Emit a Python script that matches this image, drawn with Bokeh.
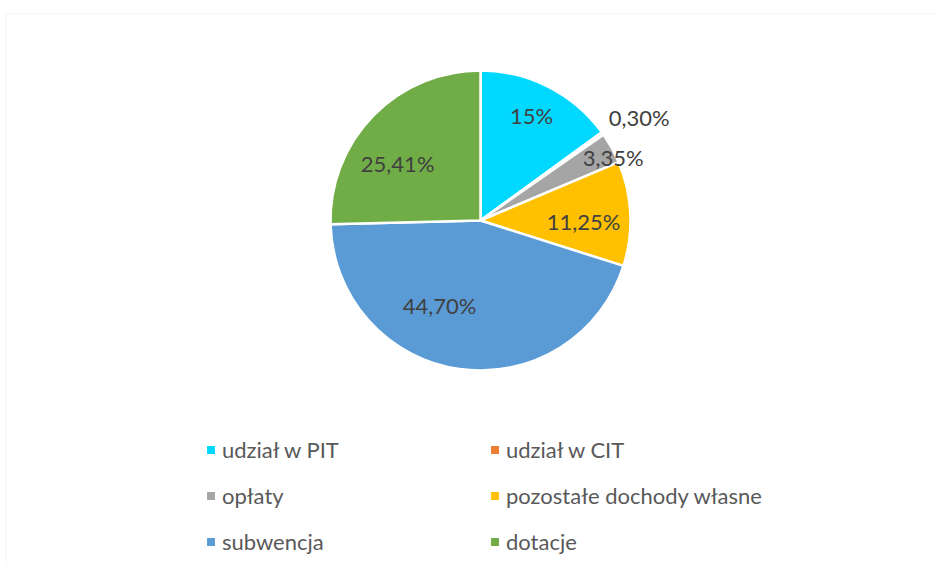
import math
from bokeh.plotting import figure
from bokeh.models import ColumnDataSource, Legend, LegendItem, Range1d, BoxAnnotation
from bokeh.core.properties import value
from bokeh.embed import file_html
from bokeh.resources import INLINE

# ---- data ----
categories = ["udział w PIT", "udział w CIT", "opłaty", "pozostałe dochody własne", "subwencja", "dotacje"]
shares = [15.00, 0.30, 3.35, 11.25, 44.70, 25.41]
label_texts = ["15%", "0,30%", "3,35%", "11,25%", "44,70%", "25,41%"]
colors = ["#00D8FF", "#ED7D31", "#A5A5A5", "#FFC000", "#5B9BD5", "#70AD47"]

# ---- layout (label placement: radius fraction, clockwise angle from top in degrees) ----
label_rfrac = [0.78, 1.26, 0.98, 0.687, 0.63, 0.67]
label_deg = [25.9, 57.1, 64.6, 90.6, 205.7, 304.5]

W, H = 939, 565
CX, CY, R = 480, -220, 150

total = sum(shares)
starts, ends = [], []
acc = 0.0
for s in shares:
    starts.append(math.pi / 2 - 2 * math.pi * acc / total)
    acc += s
    ends.append(math.pi / 2 - 2 * math.pi * acc / total)

src = ColumnDataSource(dict(cat=categories, start=starts, end=ends, color=colors,
                            x=[CX] * len(shares), y=[CY] * len(shares)))

p = figure(width=W, height=H, output_backend="svg", toolbar_location=None,
           x_range=Range1d(0, W), y_range=Range1d(-H, 0),
           x_axis_location=None, y_axis_location=None, min_border=0)
p.grid.visible = False
p.outline_line_color = None
p.background_fill_color = "white"

p.add_layout(BoxAnnotation(left=5.5, top=-13.5, right=5000, bottom=-5000,
                           fill_alpha=0, line_color="#D9D9D9", line_width=1))

wr = p.wedge(x="x", y="y", radius=R, start_angle="start", end_angle="end",
             direction="clock", fill_color="color", line_color="white",
             line_width=2.5, source=src)

lx, ly, lt = [], [], []
for t, rf, d in zip(label_texts, label_rfrac, label_deg):
    a = math.radians(d)
    lx.append(CX + rf * R * math.sin(a))
    ly.append(CY + rf * R * math.cos(a))
    lt.append(t)
p.text(x=lx, y=ly, text=lt, text_font=value("Lato"), text_font_size="22px",
       text_color="#404040", text_align="center", text_baseline="middle")

def make_legend(idxs, x):
    lg = Legend(items=[LegendItem(label=categories[i], renderers=[wr], index=i) for i in idxs],
                location=(x, 10), orientation="vertical",
                glyph_width=13, glyph_height=13, label_height=28, spacing=18,
                label_standoff=5, padding=0, margin=0,
                label_text_font="Lato", label_text_font_size="22px",
                label_text_color="#595959",
                border_line_alpha=0, background_fill_alpha=0)
    return lg

p.add_layout(make_legend([0, 2, 4], 204))
p.add_layout(make_legend([1, 3, 5], 488))

open("out.html", "w").write(file_html(p, INLINE))
